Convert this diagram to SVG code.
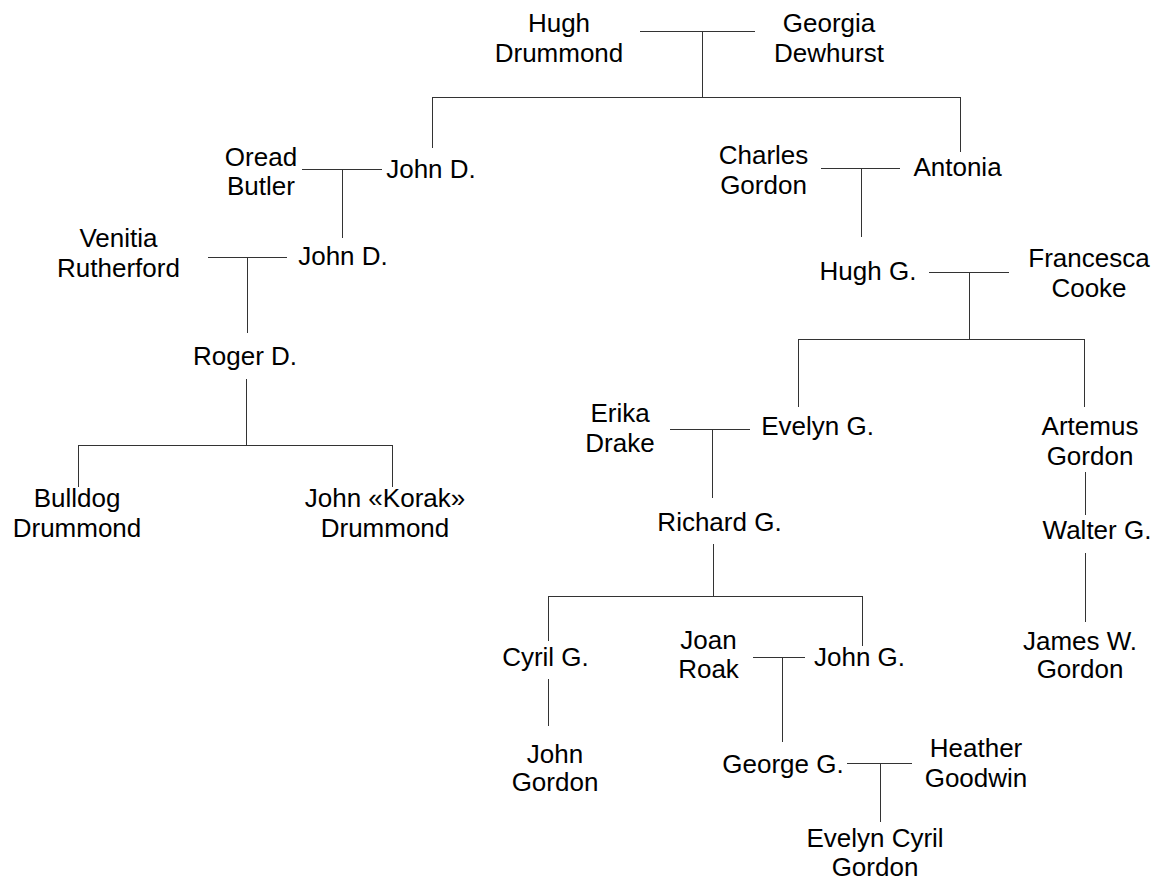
<svg xmlns="http://www.w3.org/2000/svg" width="1159" height="883" viewBox="0 0 1159 883">
<style>
text{font-family:"Liberation Sans",Arial,sans-serif;font-size:26px;fill:#000;text-anchor:middle}
.c path{fill:none;stroke:#333;stroke-width:1}
</style>
<rect width="1159" height="883" fill="#fff"/>
<g class="c" id="connectors">
<path d="M640,31.5H755M702.5,31V97M432,97.5H961M432.5,97V148M960.5,97V152"/>
<path d="M302,169.5H382M342.5,169V238"/>
<path d="M208,257.5H287M247.5,257V333"/>
<path d="M246.5,379V445M78,445.5H393M78.5,445V487M392.5,445V487"/>
<path d="M821,168.5H900M861.5,168V237"/>
<path d="M929,272.5H1009M969.5,272V339M798,339.5H1085M798.5,339V407M1084.5,339V407"/>
<path d="M670,429.5H750M712.5,429V498"/>
<path d="M713.5,544V596M548,596.5H863M548.5,596V641M862.5,596V646"/>
<path d="M753,657.5H805M782.5,657V742"/>
<path d="M548.5,679V726"/>
<path d="M1085.5,472V515M1085.5,553V622"/>
<path d="M847,763.5H912M880.5,763V822"/>
</g>
<g id="hugh_drummond"><text x="559" y="32">Hugh</text><text x="559" y="62">Drummond</text></g>
<g id="georgia_dewhurst"><text x="829" y="32">Georgia</text><text x="829" y="62">Dewhurst</text></g>
<g id="john_d_1"><text x="431" y="178">John D.</text></g>
<g id="oread_butler"><text x="261" y="166">Oread</text><text x="261" y="195">Butler</text></g>
<g id="venitia_rutherford"><text x="118.5" y="247">Venitia</text><text x="118.5" y="277">Rutherford</text></g>
<g id="john_d_2"><text x="343" y="265">John D.</text></g>
<g id="roger_d"><text x="245" y="365">Roger D.</text></g>
<g id="bulldog_drummond"><text x="77" y="507">Bulldog</text><text x="77" y="537">Drummond</text></g>
<g id="john_korak"><text x="385" y="507">John «Korak»</text><text x="385" y="537">Drummond</text></g>
<g id="charles_gordon"><text x="763.5" y="164">Charles</text><text x="763.5" y="194">Gordon</text></g>
<g id="antonia"><text x="957.5" y="176">Antonia</text></g>
<g id="hugh_g"><text x="868" y="280">Hugh G.</text></g>
<g id="francesca_cooke"><text x="1089" y="267">Francesca</text><text x="1089" y="297">Cooke</text></g>
<g id="evelyn_g"><text x="817.5" y="435">Evelyn G.</text></g>
<g id="erika_drake"><text x="620" y="422">Erika</text><text x="620" y="452">Drake</text></g>
<g id="artemus_gordon"><text x="1090" y="435">Artemus</text><text x="1090" y="465">Gordon</text></g>
<g id="richard_g"><text x="719.5" y="531">Richard G.</text></g>
<g id="walter_g"><text x="1097" y="539">Walter G.</text></g>
<g id="cyril_g"><text x="545.5" y="666">Cyril G.</text></g>
<g id="joan_roak"><text x="708.5" y="649">Joan</text><text x="708.5" y="678">Roak</text></g>
<g id="john_g"><text x="859.5" y="666">John G.</text></g>
<g id="james_w_gordon"><text x="1080" y="650">James W.</text><text x="1080" y="678">Gordon</text></g>
<g id="john_gordon"><text x="555" y="763">John</text><text x="555" y="791">Gordon</text></g>
<g id="george_g"><text x="783" y="773">George G.</text></g>
<g id="heather_goodwin"><text x="976" y="757">Heather</text><text x="976" y="787">Goodwin</text></g>
<g id="evelyn_cyril_gordon"><text x="875" y="847">Evelyn Cyril</text><text x="875" y="876">Gordon</text></g>
</svg>
